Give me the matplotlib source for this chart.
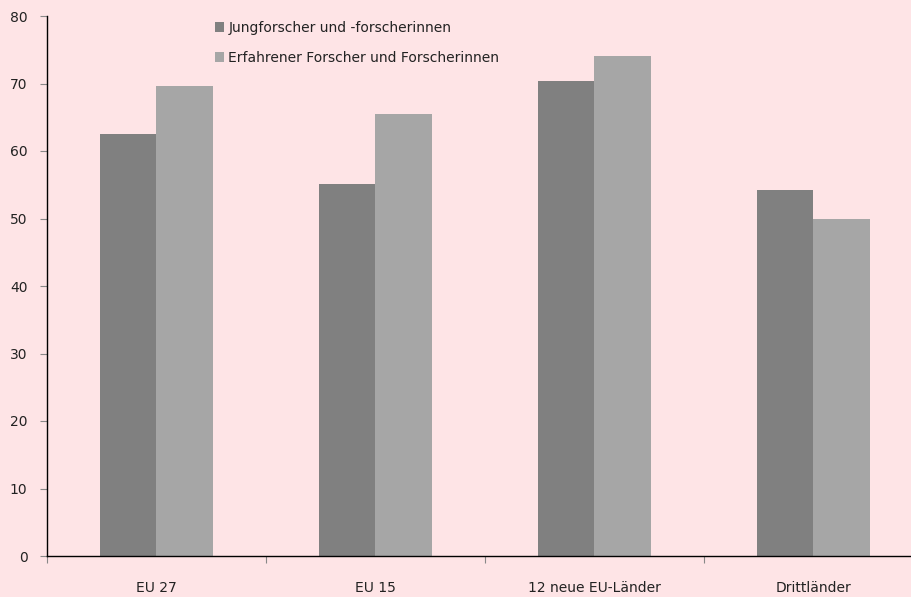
import matplotlib
matplotlib.use("Agg")
import matplotlib.pyplot as plt
import numpy as np

categories = ["EU 27", "EU 15", "12 neue EU-Länder", "Drittländer"]
series_names = ["Jungforscher und -forscherinnen", "Erfahrener Forscher und Forscherinnen"]
young = [62.5, 55.1, 70.4, 54.2]
experienced = [69.6, 65.5, 74.1, 50.0]
yticks = [0, 10, 20, 30, 40, 50, 60, 70, 80]

bg = "#FEE4E6"
plt.rcParams['font.family'] = ['DejaVu Sans']

W, H = 912, 597
fig = plt.figure(figsize=(W/100, H/100), dpi=100, facecolor=bg)
left, right, top, bottom = 47, 923, 16, 556
ax = fig.add_axes([left/W, 1-bottom/H, (right-left)/W, (bottom-top)/H])
ax.set_facecolor(bg)

x = np.arange(len(categories)) + 0.5
bw = 0.26
ax.bar(x - bw/2, young, bw, color="#808080", label=series_names[0], linewidth=0)
ax.bar(x + bw/2, experienced, bw, color="#A6A6A6", label=series_names[1], linewidth=0)

fs = 10
ax.set_xlim(0, len(categories))
ax.set_ylim(0, 80)
ax.set_yticks(yticks)
ax.set_yticklabels([str(t) for t in yticks], fontsize=fs, color="#222222")
ax.set_xticks(np.arange(len(categories)+1))
ax.set_xticklabels([])
ax.set_xticks(x, minor=True)
ax.set_xticklabels(categories, minor=True, fontsize=fs, color="#222222")
ax.tick_params(axis='x', which='minor', length=0, pad=18)
ax.tick_params(axis='x', which='major', length=5, color="#888888", direction='out')
ax.tick_params(axis='y', length=5, color="#888888", direction='out', pad=9)
for s in ["top", "right"]:
    ax.spines[s].set_visible(False)
for s in ["left", "bottom"]:
    ax.spines[s].set_color("black")
    ax.spines[s].set_linewidth(1.0)

leg = ax.legend(loc="upper left", bbox_to_anchor=(209/W, 1-15/H), bbox_transform=fig.transFigure,
                frameon=False, fontsize=fs, handlelength=0.7, handleheight=0.7,
                handletextpad=0.3, labelspacing=1.15, borderaxespad=0)
for t in leg.get_texts():
    t.set_color("#222222")

fig.savefig("out.png", dpi=100, facecolor=bg)
